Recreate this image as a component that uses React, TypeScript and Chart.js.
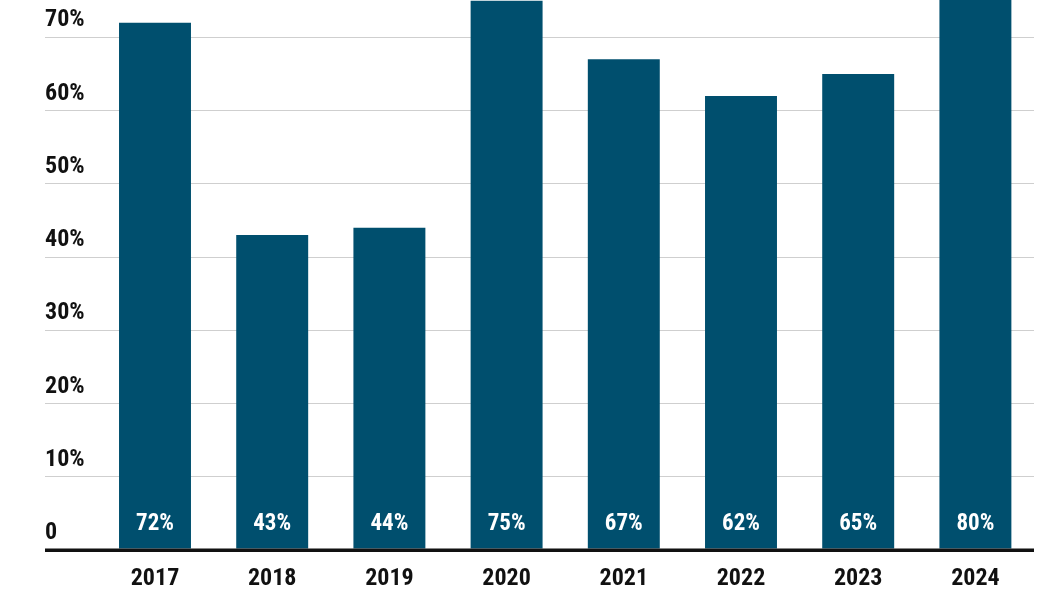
import React, { useEffect, useRef } from "react";
import { Chart, registerables } from "chart.js";

Chart.register(...registerables);

const years = ["2017", "2018", "2019", "2020", "2021", "2022", "2023", "2024"];
const shares = [72, 43, 44, 75, 67, 62, 65, 80];
const yTickValues = [0, 10, 20, 30, 40, 50, 60, 70];

const FONT = '"Roboto Condensed", "DejaVu Sans Condensed", sans-serif';
const BAR_COLOR = "#004f6e";
const GRID_COLOR = "#cfcfcf";
const AXIS_COLOR = "#111111";

const innerLabels = {
  id: "innerLabels",
  afterDatasetsDraw(chart: any) {
    const { ctx, chartArea, scales } = chart;
    const y = scales.y;
    const zero = y.getPixelForValue(0);
    ctx.save();
    ctx.strokeStyle = AXIS_COLOR;
    ctx.lineWidth = 3;
    ctx.beginPath();
    ctx.moveTo(y.left, zero);
    ctx.lineTo(chartArea.right, zero);
    ctx.stroke();
    const meta = chart.getDatasetMeta(0);
    ctx.fillStyle = "#ffffff";
    ctx.font = `bold 23px ${FONT}`;
    ctx.textAlign = "center";
    ctx.textBaseline = "middle";
    meta.data.forEach((bar: any, i: number) => {
      ctx.fillText(shares[i] + "%", bar.x, zero - 26);
    });
    ctx.restore();
  },
};

export default function App() {
  const canvasRef = useRef<HTMLCanvasElement | null>(null);

  useEffect(() => {
    if (!canvasRef.current) return;
    const chart = new Chart(canvasRef.current, {
      type: "bar",
      data: {
        labels: years,
        datasets: [
          {
            data: shares,
            backgroundColor: BAR_COLOR,
            borderWidth: 0,
            categoryPercentage: 1,
            barPercentage: 0.614,
          },
        ],
      },
      options: {
        responsive: false,
        animation: false,
        layout: { padding: { left: 45, right: 16, top: 0, bottom: 0 } },
        plugins: {
          legend: { display: false },
          tooltip: { enabled: false },
          title: { display: false },
        },
        scales: {
          x: {
            afterFit: (scale: any) => {
              scale.height = 50;
            },
            grid: { display: false, drawTicks: false },
            border: { display: false },
            ticks: {
              color: AXIS_COLOR,
              padding: 15,
              font: { family: FONT, size: 24, weight: "bold" },
            },
          },
          y: {
            min: 0,
            max: 75.1,
            afterBuildTicks: (scale: any) => {
              scale.ticks = yTickValues.map((v) => ({ value: v }));
            },
            afterFit: (scale: any) => {
              scale.width = 51.4;
              scale.paddingTop = 0;
              scale.paddingBottom = 0;
            },
            border: { display: false },
            grid: {
              color: (c: any) => (c.tick && c.tick.value === 0 ? AXIS_COLOR : GRID_COLOR),
              lineWidth: (c: any) => (c.tick && c.tick.value === 0 ? 3 : 1),
              drawTicks: true,
              tickLength: 51.4,
            },
            ticks: {
              crossAlign: "far",
              labelOffset: -17,
              padding: 0,
              color: AXIS_COLOR,
              font: { family: FONT, size: 24, weight: "bold" },
              callback: (v: any) => (Number(v) === 0 ? "0" : v + "%"),
            },
          },
        },
      },
      plugins: [innerLabels],
    } as any);
    return () => chart.destroy();
  }, []);

  return (
    <div style={{ position: "absolute", left: 0, top: 0, width: 1050, height: 600, background: "#fff" }}>
      <canvas ref={canvasRef} width={1050} height={600} style={{ display: "block" }} />
    </div>
  );
}
